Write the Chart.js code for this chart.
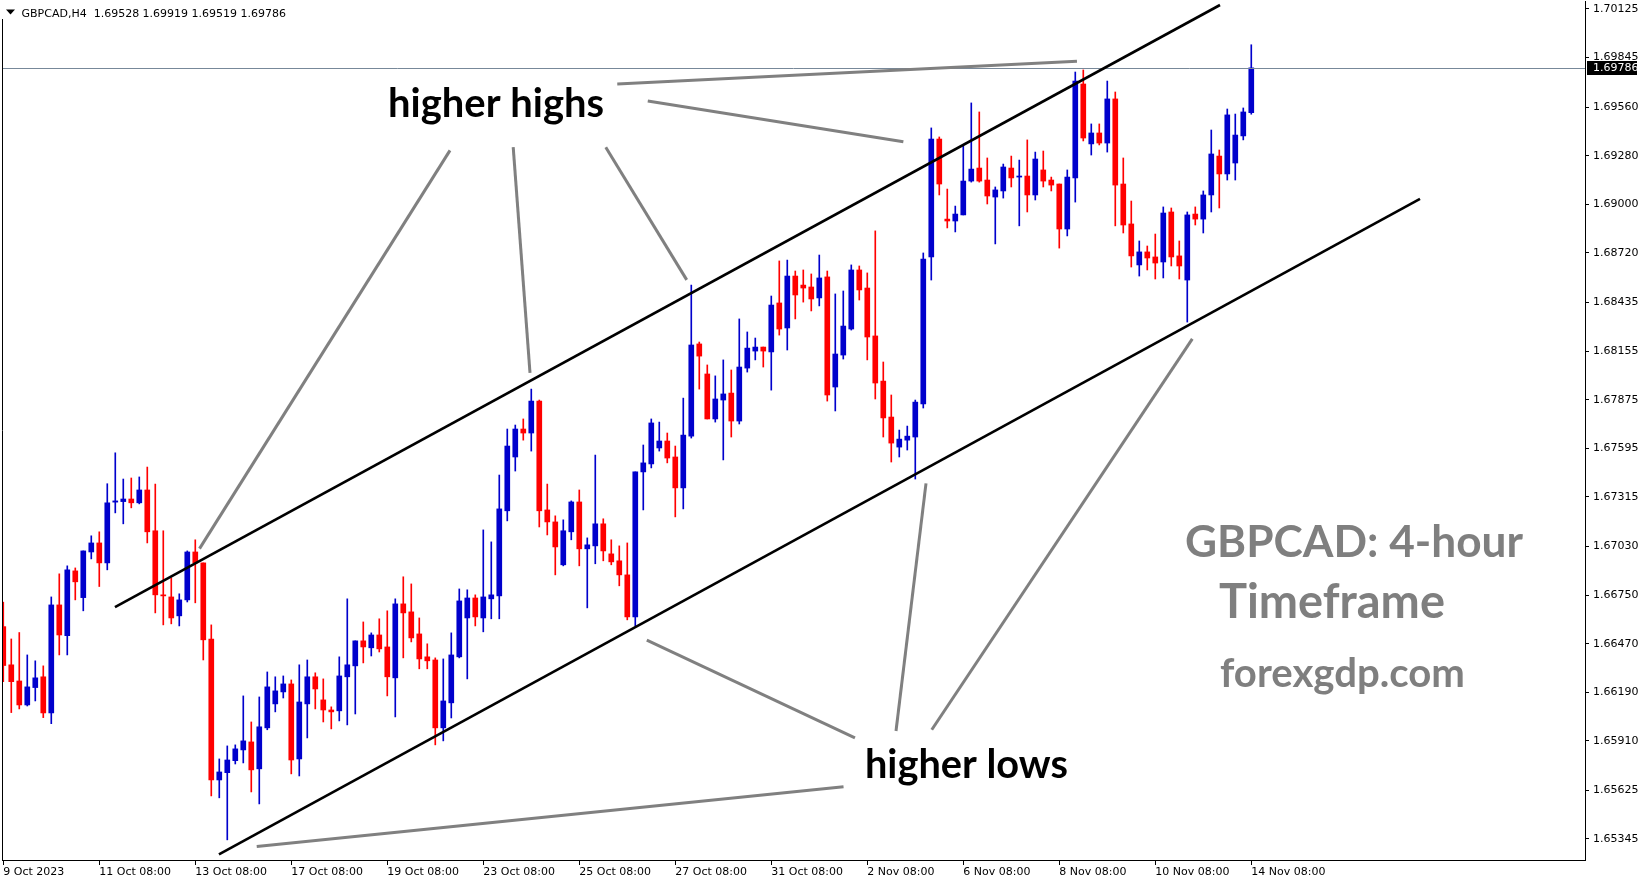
<!DOCTYPE html>
<html><head><meta charset="utf-8">
<script src="https://cdn.jsdelivr.net/npm/chart.js@4.4.1/dist/chart.umd.min.js"></script>
<style>html,body{margin:0;padding:0;background:#fff;overflow:hidden}canvas{display:block}</style>
</head><body>
<canvas id="c" width="1649" height="884"></canvas>
<script>
// ---------- DATA ----------
const symbolTitle = 'GBPCAD,H4';
const headerValues = ['1.69528', '1.69919', '1.69519', '1.69786'];

const open = [
1.66568,1.66348,1.66255,1.66117,1.66217,1.66279,1.66071,1.66693,1.66516,1.66889,
1.66735,1.66998,1.67050,1.66935,1.67285,1.67288,1.67303,1.67281,1.67355,1.67120,
1.66751,1.66739,1.66630,1.66722,1.66998,1.66935,1.66497,1.65685,1.65727,1.65796,
1.65858,1.65904,1.65749,1.65985,1.66123,1.66192,1.66238,1.65806,1.66123,1.66279,
1.66146,1.66088,1.66083,1.66279,1.66342,1.66486,1.66446,1.66520,1.66451,1.66273,
1.66699,1.66653,1.66526,1.66394,1.66376,1.65985,1.66129,1.66394,1.66618,1.66733,
1.66618,1.66728,1.66745,1.67235,1.67545,1.67706,1.67683,1.67867,1.67240,1.67171,
1.66924,1.67114,1.67286,1.67016,1.67033,1.67160,1.66987,1.66947,1.66866,1.66624,
1.67459,1.67505,1.67597,1.67637,1.67545,1.67367,1.67665,1.68196,1.68023,1.67764,
1.67873,1.67913,1.67752,1.68057,1.68155,1.68178,1.68150,1.68432,1.68288,1.68587,
1.68535,1.68524,1.68461,1.68582,1.67948,1.68132,1.68282,1.68622,1.68518,1.68242,
1.67982,1.67775,1.67602,1.67642,1.67660,1.67850,1.68697,1.69376,1.68915,1.68904,
1.68939,1.69134,1.69209,1.69140,1.69042,1.69077,1.69209,1.69157,1.69163,1.69054,
1.69198,1.69140,1.69117,1.68858,1.69152,1.69693,1.69348,1.69411,1.69353,1.69607,
1.69117,1.68887,1.68651,1.68726,1.68697,1.68668,1.68956,1.68703,1.68564,1.68944,
1.68915,1.69054,1.69278,1.69175,1.69238,1.69394,1.69528];

const high = [
1.66709,1.66497,1.66534,1.66405,1.66371,1.66342,1.66739,1.66872,1.66918,1.66906,
1.67004,1.67091,1.67114,1.67391,1.67569,1.67418,1.67424,1.67430,1.67487,1.67389,
1.67120,1.66849,1.66757,1.67004,1.67068,1.66935,1.66578,1.65806,1.65881,1.65887,
1.66169,1.66019,1.66163,1.66307,1.66279,1.66284,1.66261,1.66348,1.66376,1.66302,
1.66267,1.66106,1.66394,1.66728,1.66486,1.66595,1.66532,1.66613,1.66659,1.66728,
1.66855,1.66814,1.66618,1.66469,1.66388,1.66382,1.66532,1.66785,1.66780,1.66751,
1.67125,1.67056,1.67441,1.67706,1.67729,1.67764,1.67936,1.67873,1.67389,1.67206,
1.67183,1.67292,1.67355,1.67079,1.67556,1.67189,1.67068,1.67033,1.67050,1.67459,
1.67614,1.67764,1.67746,1.67683,1.67608,1.67884,1.68535,1.68207,1.68075,1.68012,
1.68104,1.68046,1.68340,1.68265,1.68230,1.68178,1.68472,1.68674,1.68679,1.68616,
1.68622,1.68599,1.68708,1.68616,1.68484,1.68501,1.68651,1.68645,1.68605,1.68847,
1.68092,1.67902,1.67700,1.67723,1.67873,1.68720,1.69440,1.69388,1.69088,1.68990,
1.69342,1.69584,1.69532,1.69267,1.69100,1.69232,1.69278,1.69255,1.69371,1.69301,
1.69307,1.69157,1.69117,1.69198,1.69762,1.69774,1.69463,1.69463,1.69710,1.69647,
1.69267,1.69019,1.68789,1.68760,1.68829,1.68985,1.68979,1.68789,1.68956,1.68985,
1.69077,1.69428,1.69313,1.69549,1.69520,1.69555,1.69919];

const low = [
1.66251,1.66073,1.66094,1.66111,1.66140,1.66044,1.66009,1.66405,1.66405,1.66722,
1.66659,1.66958,1.66799,1.66895,1.67223,1.67160,1.67252,1.67275,1.67050,1.66647,
1.66578,1.66584,1.66572,1.66710,1.66705,1.66376,1.65593,1.65582,1.65340,1.65777,
1.65783,1.65616,1.65547,1.65974,1.66077,1.66157,1.65720,1.65708,1.65927,1.66094,
1.66019,1.65979,1.66025,1.66002,1.66065,1.66359,1.66399,1.66422,1.66169,1.66048,
1.66388,1.66480,1.66325,1.66325,1.65887,1.65910,1.66042,1.66388,1.66267,1.66572,
1.66538,1.66613,1.66613,1.67177,1.67464,1.67642,1.67579,1.67142,1.67096,1.66866,
1.66918,1.67068,1.66918,1.66676,1.66930,1.66947,1.66924,1.66803,1.66607,1.66572,
1.67240,1.67482,1.67579,1.67511,1.67200,1.67246,1.67654,1.67936,1.67764,1.67746,
1.67528,1.67660,1.67735,1.68034,1.68104,1.68063,1.67930,1.68247,1.68161,1.68340,
1.68437,1.68386,1.68415,1.67867,1.67810,1.68109,1.68276,1.68449,1.68104,1.67879,
1.67660,1.67516,1.67545,1.67585,1.67418,1.67827,1.68564,1.69054,1.68864,1.68841,
1.68939,1.69128,1.69128,1.69002,1.68772,1.69036,1.69100,1.68876,1.68956,1.69025,
1.69100,1.69077,1.68748,1.68818,1.69013,1.69365,1.69284,1.69342,1.69301,1.68876,
1.68835,1.68639,1.68587,1.68622,1.68570,1.68576,1.68645,1.68570,1.68322,1.68881,
1.68835,1.68956,1.68979,1.69140,1.69140,1.69371,1.69519];

const close = [
1.66344,1.66251,1.66117,1.66221,1.66273,1.66071,1.66693,1.66520,1.66895,1.66826,
1.67004,1.67050,1.66935,1.67281,1.67292,1.67303,1.67281,1.67355,1.67114,1.66751,
1.66745,1.66618,1.66722,1.66998,1.66935,1.66492,1.65685,1.65731,1.65800,1.65864,
1.65910,1.65743,1.65991,1.66221,1.66198,1.66238,1.65800,1.66134,1.66279,1.66209,
1.66088,1.66077,1.66284,1.66348,1.66486,1.66451,1.66520,1.66440,1.66279,1.66699,
1.66647,1.66503,1.66382,1.66371,1.65985,1.66140,1.66405,1.66716,1.66733,1.66624,
1.66739,1.66751,1.67246,1.67608,1.67706,1.67683,1.67867,1.67235,1.67171,1.67027,
1.67120,1.67286,1.67016,1.67039,1.67160,1.67004,1.66941,1.66866,1.66624,1.67459,
1.67511,1.67741,1.67637,1.67539,1.67367,1.67671,1.68190,1.68126,1.67764,1.67879,
1.67908,1.67752,1.68063,1.68172,1.68178,1.68155,1.68420,1.68282,1.68587,1.68478,
1.68518,1.68455,1.68576,1.67902,1.68138,1.68299,1.68622,1.68507,1.68236,1.67971,
1.67770,1.67625,1.67648,1.67665,1.67861,1.68685,1.69376,1.69117,1.68904,1.68944,
1.69134,1.69203,1.69134,1.69048,1.69083,1.69215,1.69152,1.69163,1.69054,1.69261,
1.69134,1.69111,1.68858,1.69157,1.69710,1.69382,1.69411,1.69353,1.69607,1.69111,
1.68881,1.68703,1.68726,1.68691,1.68662,1.68950,1.68697,1.68645,1.68939,1.68915,
1.69054,1.69290,1.69175,1.69515,1.69399,1.69532,1.69786];

const dateLabels = ['9 Oct 2023','11 Oct 08:00','13 Oct 08:00','17 Oct 08:00','19 Oct 08:00','23 Oct 08:00','25 Oct 08:00','27 Oct 08:00','31 Oct 08:00','2 Nov 08:00','6 Nov 08:00','8 Nov 08:00','10 Nov 08:00','14 Nov 08:00'];
const dateTickIndex = [0,12,24,36,48,60,72,84,96,108,120,132,144,156];
const priceTicks = [1.70125,1.69845,1.69560,1.69280,1.69000,1.68720,1.68435,1.68155,1.67875,1.67595,1.67315,1.67030,1.66750,1.66470,1.66190,1.65910,1.65625,1.65345];
const lastPrice = 1.69786;

// channel lines [x1, price1, x2, price2] in bar index / price units
const channelLines = [
  [13.96, 1.66680, 152.09, 1.70148],
  [26.96, 1.65257, 177.09, 1.69031]
];
const pointerLines = [
  [76.75, 1.69693, 134.21, 1.69824],
  [80.56, 1.69595, 112.51, 1.69361],
  [55.84, 1.69311, 24.53, 1.67017],
  [63.74, 1.69329, 65.84, 1.68029],
  [75.31, 1.69329, 85.43, 1.68565],
  [80.44, 1.66490, 106.46, 1.65927],
  [105.03, 1.65646, 31.68, 1.65302],
  [111.59, 1.65967, 115.34, 1.67393],
  [116.06, 1.65974, 148.63, 1.68225]
];
const noteTexts = ['higher highs', 'higher lows', 'GBPCAD: 4-hour', 'Timeframe', 'forexgdp.com'];
const noteAnchors = [[48.1, 1.69505], [107.71, 1.65695], [147.71, 1.66970], [151.96, 1.66618], [152.09, 1.66221]];

// ---------- STYLE ----------
const noteStyle = [
  {w: 216, color: '#000000'},
  {w: 203, color: '#000000'},
  {w: 338, color: '#7f7f7f'},
  {w: 226, color: '#7f7f7f'},
  {w: 245, color: '#7f7f7f'}
];
const BULL = '#0000cc', BEAR = '#ff0000';
const AXFONT = {family: 'DejaVu Sans', size: 11};

const candleColors = open.map((o, i) => close[i] >= o ? BULL : BEAR);

const overlay = {
  id: 'overlay',
  beforeDraw(chart) {
    const ctx = chart.ctx;
    ctx.save(); ctx.fillStyle = '#fff'; ctx.fillRect(0, 0, chart.width, chart.height); ctx.restore();
  },
  afterDatasetsDraw(chart) {
    const {ctx, chartArea: a, scales: {x, y}} = chart;
    ctx.save();
    ctx.beginPath(); ctx.rect(a.left, a.top, a.right - a.left, a.bottom - a.top); ctx.clip();
    // current price line
    const py = Math.round(y.getPixelForValue(lastPrice)) + 0.5;
    ctx.strokeStyle = '#778899'; ctx.lineWidth = 1;
    ctx.beginPath(); ctx.moveTo(a.left, py); ctx.lineTo(a.right, py); ctx.stroke();
    // pointer lines
    ctx.strokeStyle = '#808080'; ctx.lineWidth = 3; ctx.lineCap = 'butt';
    pointerLines.forEach(l => {
      ctx.beginPath();
      ctx.moveTo(x.getPixelForValue(l[0]), y.getPixelForValue(l[1]));
      ctx.lineTo(x.getPixelForValue(l[2]), y.getPixelForValue(l[3]));
      ctx.stroke();
    });
    // channel lines
    ctx.strokeStyle = '#000'; ctx.lineWidth = 2.6;
    channelLines.forEach(l => {
      ctx.beginPath();
      ctx.moveTo(x.getPixelForValue(l[0]), y.getPixelForValue(l[1]));
      ctx.lineTo(x.getPixelForValue(l[2]), y.getPixelForValue(l[3]));
      ctx.stroke();
    });
    // texts
    ctx.textBaseline = 'alphabetic'; ctx.textAlign = 'left';
    noteTexts.forEach((t, i) => {
      ctx.font = 'bold 100px Lato';
      const m = ctx.measureText(t).width;
      const size = 100 * noteStyle[i].w / m;
      ctx.font = 'bold ' + size.toFixed(2) + 'px Lato';
      ctx.fillStyle = noteStyle[i].color;
      ctx.fillText(t, x.getPixelForValue(noteAnchors[i][0]), y.getPixelForValue(noteAnchors[i][1]));
    });
    ctx.restore();
  },
  afterDraw(chart) {
    const {ctx, chartArea: a, scales: {y}} = chart;
    ctx.save();
    // left border
    ctx.strokeStyle = '#000'; ctx.lineWidth = 1;
    ctx.beginPath(); ctx.moveTo(a.left + 0.5, a.top); ctx.lineTo(a.left + 0.5, a.bottom); ctx.stroke();
    // header
    ctx.fillStyle = '#fff'; ctx.fillRect(0, 0, 292, 19);
    ctx.fillStyle = '#000';
    ctx.beginPath(); ctx.moveTo(6, 9.5); ctx.lineTo(15, 9.5); ctx.lineTo(10.5, 14.5); ctx.closePath(); ctx.fill();
    ctx.font = '11px "DejaVu Sans"'; ctx.textBaseline = 'alphabetic'; ctx.textAlign = 'left';
    ctx.fillText(symbolTitle + '  ' + headerValues.join(' '), 21.5, 17);
    // price label
    const py = Math.round(y.getPixelForValue(lastPrice));
    ctx.fillStyle = '#000'; ctx.fillRect(a.right + 2, py - 7, 50, 14);
    ctx.fillStyle = '#fff'; ctx.textBaseline = 'middle';
    ctx.fillText(lastPrice.toFixed(5), a.right + 8, py + 0.5);
    ctx.restore();
  }
};

const yMax = 1.70171, yMin = 1.65224;

new Chart(document.getElementById('c'), {
  type: 'bar',
  data: {
    datasets: [
      {
        label: 'body',
        data: open.map((o, i) => ({x: i, y: [o, close[i]]})),
        backgroundColor: candleColors,
        barThickness: 5,
        minBarLength: 1,
        borderWidth: 0,
        grouped: false
      },
      {
        label: 'wick',
        data: low.map((l, i) => ({x: i, y: [l, high[i]]})),
        backgroundColor: candleColors,
        barThickness: 1,
        borderWidth: 0,
        grouped: false
      }
    ]
  },
  options: {
    responsive: false,
    animation: false,
    events: [],
    layout: {padding: {left: 2, top: 1, right: 0, bottom: 0}},
    plugins: {legend: {display: false}, tooltip: {enabled: false}},
    scales: {
      x: {
        type: 'linear', min: -0.16, max: 197.715, offset: false,
        afterBuildTicks(s) { s.ticks = dateTickIndex.map(v => ({value: v})); },
        afterFit(s) { s.height = 24; s.paddingLeft = 0; s.paddingRight = 0; s.paddingTop = 0; s.paddingBottom = 0; },
        ticks: {autoSkip: false, maxRotation: 0, minRotation: 0, align: 'start', padding: 1, color: '#000', font: AXFONT,
          callback: (v, i) => dateLabels[i]},
        grid: {drawOnChartArea: false, drawTicks: true, tickLength: 5, color: '#000', offset: false},
        border: {display: true, color: '#000', width: 1}
      },
      y: {
        type: 'linear', position: 'right', min: yMin, max: yMax, beginAtZero: false,
        afterBuildTicks(s) { s.ticks = priceTicks.map(v => ({value: v})); },
        afterFit(s) { s.width = 64; s.paddingLeft = 0; s.paddingRight = 0; s.paddingTop = 0; s.paddingBottom = 0; },
        ticks: {padding: 4, color: '#000', font: AXFONT, callback: v => v.toFixed(5)},
        grid: {drawOnChartArea: false, drawTicks: true, tickLength: 4, color: '#000'},
        border: {display: true, color: '#000', width: 1}
      }
    }
  },
  plugins: [overlay]
});
</script>
</body></html>
